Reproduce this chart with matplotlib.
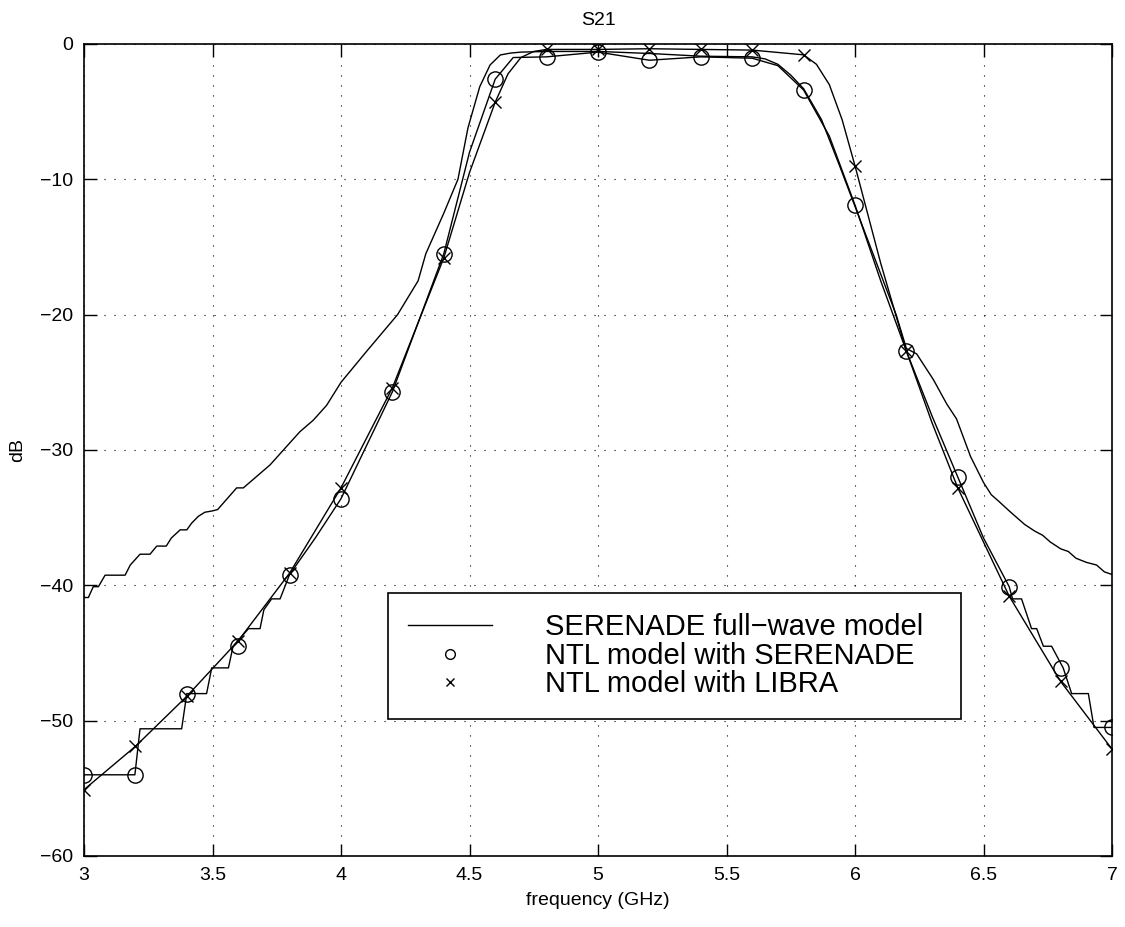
import numpy as np
import matplotlib
matplotlib.use("Agg")
import matplotlib.pyplot as plt
from matplotlib.lines import Line2D

plt.rcParams["font.family"] = ["Liberation Sans", "DejaVu Sans"]

# SERENADE full-wave model (solid line)
fw_freq = [3.000, 3.017, 3.036, 3.056, 3.082, 3.160, 3.180, 3.218, 3.257, 3.283,
           3.320, 3.340, 3.374, 3.400, 3.419, 3.445, 3.470, 3.500, 3.520, 3.594,
           3.620, 3.724, 3.776, 3.840, 3.892, 3.944, 4.000, 4.100, 4.220, 4.300,
           4.330, 4.400, 4.455, 4.494, 4.540, 4.580, 4.620, 4.660, 4.700, 4.800,
           5.000, 5.200, 5.400, 5.600, 5.650, 5.700, 5.750, 5.800, 5.870, 5.940,
           6.000, 6.100, 6.160, 6.200, 6.240, 6.305, 6.357, 6.395, 6.450, 6.500,
           6.530, 6.560, 6.600, 6.630, 6.660, 6.700, 6.730, 6.760, 6.800, 6.830,
           6.860, 6.900, 6.940, 6.970, 7.000]
fw_db = [-40.9, -40.9, -40.1, -40.1, -39.25, -39.25, -38.5, -37.7, -37.7, -37.1,
         -37.1, -36.5, -35.9, -35.9, -35.4, -34.9, -34.6, -34.5, -34.4, -32.8,
         -32.8, -31.1, -30.0, -28.65, -27.8, -26.7, -25.0, -22.7, -20.0, -17.5,
         -15.5, -12.5, -10.0, -6.2, -3.15, -1.55, -0.81, -0.67, -0.6, -0.55,
         -0.55, -0.7, -0.9, -0.95, -1.1, -1.5, -2.3, -3.3, -5.6, -9.0,
         -12.0, -17.0, -20.0, -22.5, -22.9, -24.8, -26.6, -27.7, -30.5, -32.4,
         -33.3, -33.8, -34.5, -35.0, -35.5, -36.0, -36.3, -36.8, -37.3, -37.5,
         -38.0, -38.3, -38.5, -39.0, -39.2]

# NTL model with SERENADE: markers every 0.2 GHz, plus the line through it
ntl_s_freq = [3.0, 3.2, 3.4, 3.6, 3.8, 4.0, 4.2, 4.4, 4.6, 4.8, 5.0,
              5.2, 5.4, 5.6, 5.8, 6.0, 6.2, 6.4, 6.6, 6.8, 7.0]
ntl_s_db = [-54.0, -54.0, -48.0, -44.5, -39.2, -33.6, -25.7, -15.5, -2.6, -0.95, -0.6,
            -1.2, -0.95, -1.05, -3.4, -11.9, -22.7, -32.0, -40.1, -46.1, -50.5]
ntl_s_line_freq = [3.000, 3.198, 3.218, 3.380, 3.400, 3.477, 3.497, 3.562, 3.580, 3.640,
                   3.685, 3.700, 3.730, 3.763, 3.800, 3.900, 4.000, 4.200, 4.400, 4.500,
                   4.600, 4.670, 4.800, 5.000, 5.200, 5.400, 5.600, 5.700, 5.800, 5.900,
                   6.000, 6.100, 6.200, 6.300, 6.400, 6.500, 6.600, 6.613, 6.648, 6.687,
                   6.707, 6.733, 6.765, 6.810, 6.843, 6.908, 6.930, 7.000]
ntl_s_line_db = [-54.0, -54.0, -50.6, -50.6, -48.0, -48.0, -46.1, -46.1, -44.5, -43.2,
                 -43.2, -41.8, -41.0, -41.0, -39.2, -36.5, -33.6, -25.7, -15.5, -8.0,
                 -2.6, -1.0, -0.95, -0.6, -1.2, -0.95, -1.05, -1.6, -3.4, -6.8,
                 -11.9, -17.5, -22.7, -27.5, -32.0, -36.5, -40.1, -41.0, -41.0, -43.2,
                 -43.2, -44.5, -44.5, -46.1, -48.0, -48.0, -50.5, -50.5]

# NTL model with LIBRA
ntl_l_freq = ntl_s_freq
ntl_l_db = [-55.1, -51.9, -48.2, -44.1, -39.1, -32.8, -25.4, -15.8, -4.3, -0.4, -0.4,
            -0.35, -0.4, -0.45, -0.8, -9.0, -22.7, -32.8, -40.8, -47.1, -52.1]
ntl_l_line_freq = [3.0, 3.2, 3.4, 3.6, 3.8, 4.0, 4.2, 4.4, 4.5, 4.6, 4.65, 4.7, 4.75,
                   4.8, 5.0, 5.2, 5.4, 5.6, 5.8, 5.85, 5.9, 5.95, 6.0, 6.05, 6.1,
                   6.2, 6.3, 6.4, 6.6, 6.8, 7.0]
ntl_l_line_db = [-55.1, -51.9, -48.2, -44.1, -39.1, -32.8, -25.4, -15.8, -9.5, -4.3,
                 -2.2, -1.0, -0.55, -0.4, -0.4, -0.35, -0.4, -0.45, -0.8, -1.5,
                 -3.0, -5.6, -9.0, -12.6, -16.2, -22.7, -28.0, -32.8, -40.8, -47.1, -52.1]

fig = plt.figure(figsize=(11.25, 9.27), dpi=100)
ax = fig.add_axes([84 / 1125, 71 / 927, 1028 / 1125, 812 / 927])

lw = 1.0
ax.plot(fw_freq, fw_db, "-", color="black", lw=lw)
ax.plot(ntl_s_freq, ntl_s_db, "o", color="black", mfc="none", ms=11, mew=lw)
ax.plot(ntl_l_freq, ntl_l_db, "x", color="black", ms=9, mew=lw)
ax.plot(ntl_s_line_freq, ntl_s_line_db, "-", color="black", lw=lw)
ax.plot(ntl_l_line_freq, ntl_l_line_db, "-", color="black", lw=lw)

ax.set_xlim(3, 7)
ax.set_ylim(-60, 0)
ax.set_xticks(np.arange(3, 7.01, 0.5))
ax.set_xticklabels(["3", "3.5", "4", "4.5", "5", "5.5", "6", "6.5", "7"])
ax.set_yticks(np.arange(-60, 1, 10))
ax.set_yticklabels(["\u221260", "\u221250", "\u221240", "\u221230", "\u221220", "\u221210", "0"])
ax.grid(True, color="black", linestyle=(0, (1, 8)), linewidth=0.8)
ax.tick_params(direction="in", length=9, width=1, top=True, right=True,
               labelsize=14, pad=8)
for s in ax.spines.values():
    s.set_linewidth(1.2)

ax.set_title("S21", fontsize=14, pad=14)
ax.set_xlabel("frequency (GHz)", fontsize=14, labelpad=6)
ax.set_ylabel("dB", fontsize=14, labelpad=10)

handles = [
    Line2D([], [], color="black", lw=lw),
    Line2D([], [], color="black", marker="o", mfc="none", ls="none", ms=7, mew=lw),
    Line2D([], [], color="black", marker="x", ls="none", ms=6, mew=lw),
]
labels = ["SERENADE full\u2212wave model", "NTL model with SERENADE", "NTL model with LIBRA"]
leg = ax.legend(handles, labels, loc="center",
                bbox_to_anchor=(0.2957, 0.1687, 0.5573, 0.1556), mode="expand",
                fontsize=21, frameon=True, fancybox=False, edgecolor="black",
                framealpha=1, handlelength=2.85, handletextpad=1.85,
                borderpad=0.7, labelspacing=0.02, borderaxespad=0)
leg.get_frame().set_linewidth(1.2)

fig.savefig("out.png", dpi=100)
